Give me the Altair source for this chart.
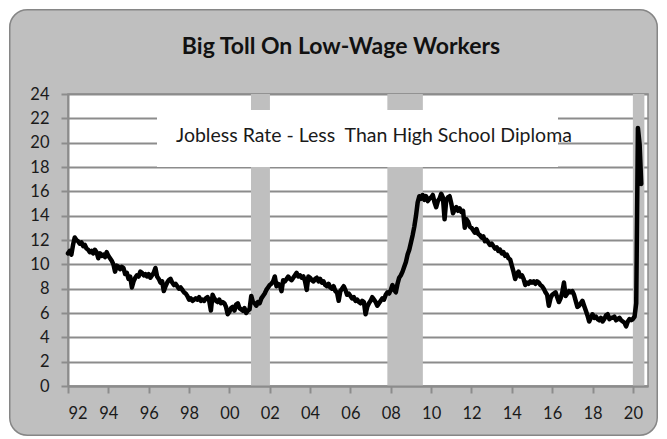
import altair as alt
import pandas as pd

# ---- data (monthly jobless rate, less than high school diploma, %) ----
r1992 = [10.9, 11.1, 10.8, 11.6, 12.2, 12.0, 11.9, 11.7, 11.8, 11.5, 11.6, 11.3]
r1993 = [11.2, 11.0, 11.1, 10.9, 11.2, 11.0, 10.5, 10.9, 10.7, 10.8, 10.6, 11.0]
r1994 = [10.7, 10.5, 10.3, 10.0, 9.4, 9.9, 9.8, 9.6, 9.8, 9.7, 9.2, 9.3]
r1995 = [8.8, 9.0, 8.1, 8.6, 8.9, 9.1, 9.0, 9.4, 9.3, 9.1, 9.2, 9.0]
r1996 = [9.2, 8.9, 9.1, 9.3, 9.7, 9.0, 8.8, 8.5, 8.6, 7.8, 8.2, 8.5]
r1997 = [8.7, 8.8, 8.5, 8.3, 8.4, 8.2, 8.0, 8.1, 7.9, 7.7, 7.6, 7.4]
r1998 = [7.1, 7.2, 7.0, 7.1, 7.2, 7.1, 7.3, 7.0, 7.1, 7.0, 7.2, 7.3]
r1999 = [7.0, 6.2, 7.5, 7.2, 7.0, 6.9, 7.1, 6.8, 6.9, 6.8, 6.5, 5.9]
r2000 = [6.1, 6.4, 6.5, 6.2, 6.7, 6.8, 6.4, 6.3, 6.2, 6.4, 6.0, 6.2]
r2001 = [6.3, 7.4, 6.9, 6.8, 6.6, 6.9, 6.8, 7.2, 7.4, 7.6, 7.9, 8.1]
r2002 = [8.3, 8.4, 8.6, 9.0, 8.2, 8.4, 8.3, 7.8, 8.7, 8.6, 8.8, 9.0]
r2003 = [8.8, 8.7, 8.9, 9.1, 9.3, 9.0, 9.1, 8.9, 9.0, 8.6, 7.9, 9.0]
r2004 = [8.9, 8.7, 8.6, 8.8, 8.9, 8.6, 8.8, 8.5, 8.6, 8.3, 8.2, 8.4]
r2005 = [8.1, 8.0, 8.2, 7.8, 7.7, 7.0, 7.8, 8.0, 8.2, 7.9, 7.5, 7.6]
r2006 = [7.4, 7.2, 7.3, 7.0, 7.1, 6.9, 6.8, 7.0, 6.9, 5.9, 6.5, 6.8]
r2007 = [7.0, 7.3, 7.1, 6.9, 6.6, 6.8, 7.0, 7.2, 7.1, 7.5, 7.7, 7.6]
r2008 = [7.9, 8.3, 7.9, 7.7, 8.4, 8.9, 9.1, 9.4, 9.8, 10.2, 10.8, 11.2]
r2009 = [11.8, 12.4, 13.1, 14.0, 15.1, 15.6, 15.4, 15.7, 15.3, 15.6, 15.2, 15.4]
r2010 = [15.5, 15.7, 15.1, 14.7, 15.2, 15.4, 15.8, 15.5, 13.7, 15.3, 15.5, 15.6]
r2011 = [15.0, 14.2, 14.5, 14.7, 14.4, 14.6, 14.3, 14.4, 13.0, 13.7, 13.5, 13.1]
r2012 = [13.0, 12.8, 12.6, 12.9, 12.5, 12.4, 12.2, 12.3, 11.9, 12.0, 11.8, 11.6]
r2013 = [11.7, 11.5, 11.3, 11.4, 11.1, 11.2, 10.9, 11.0, 10.7, 10.8, 10.5, 10.4]
r2014 = [9.9, 9.4, 8.8, 9.2, 9.4, 9.0, 9.1, 8.8, 8.3, 8.5, 8.4, 8.6]
r2015 = [8.5, 8.6, 8.4, 8.6, 8.5, 8.3, 8.2, 8.0, 7.7, 7.5, 6.6, 7.2]
r2016 = [7.5, 7.6, 7.7, 7.3, 6.9, 7.2, 7.7, 8.5, 7.4, 7.6, 7.8, 7.7]
r2017 = [7.8, 7.5, 7.0, 6.5, 6.6, 6.8, 7.0, 6.6, 6.2, 5.8, 5.3, 5.6]
r2018 = [5.9, 5.6, 5.7, 5.5, 5.4, 5.6, 5.3, 5.5, 5.8, 5.9, 5.5, 5.6]
r2019 = [5.6, 5.7, 5.4, 5.5, 5.6, 5.4, 5.3, 5.2, 4.9, 5.3, 5.5, 5.4]
r2020 = [5.5, 5.7, 6.8, 21.2, 19.9, 16.6]

years = list(range(1992, 2021))
series = [r1992, r1993, r1994, r1995, r1996, r1997, r1998, r1999, r2000,
          r2001, r2002, r2003, r2004, r2005, r2006, r2007, r2008, r2009,
          r2010, r2011, r2012, r2013, r2014, r2015, r2016, r2017, r2018,
          r2019, r2020]

# recession periods (decimal years)
rec_start = [2001.07, 2007.83, 2020.0]
rec_end = [2002.01, 2009.59, 2020.57]

x_ticks = list(range(1992, 2021, 2))
y_ticks = list(range(0, 25, 2))

title_text = ["Big Toll On Low-Wage Workers"]
legend_text = ["Jobless Rate - Less\u00a0 Than High School Diploma"]

# ---- build tables ----
rows = []
for yr, vals in zip(years, series):
    for i, v in enumerate(vals):
        rows.append({"t": yr + i / 12.0, "rate": v})
df = pd.DataFrame(rows)
rec = pd.DataFrame({"start": rec_start, "end": rec_end})

W, H = 580, 292
PAD_L, PAD_T, PAD_R, PAD_B = 60, 86, 11, 51
FONT = "Lato"
GRID = "#8c8c8c"
FILL = "#bfbfbf"

xscale = alt.Scale(domain=[1992, 2020.75], nice=False, zero=False)
yscale = alt.Scale(domain=[0, 24], nice=False)

one = pd.DataFrame({"k": [0]})

bars = alt.Chart(rec).mark_rect(color=FILL).encode(
    x=alt.X("start:Q", scale=xscale,
            axis=alt.Axis(values=x_ticks, grid=False, zindex=1,
                          labelExpr="(datum.value % 100 < 10 ? '0' : '') + (datum.value % 100)",
                          domainColor=GRID, domainWidth=2, tickColor=GRID,
                          tickWidth=2, tickSize=7, labelPadding=12, title=None)),
    x2="end:Q",
    y=alt.value(0),
    y2=alt.value(H),
)

line = alt.Chart(df).mark_line(color="black", strokeWidth=4.5,
                               strokeJoin="round", strokeCap="round").encode(
    x=alt.X("t:Q", scale=xscale),
    y=alt.Y("rate:Q", scale=yscale,
            axis=alt.Axis(values=y_ticks, grid=True, gridColor=GRID, gridWidth=2,
                          domainColor=GRID, domainWidth=2, tickColor=GRID,
                          tickWidth=2, tickSize=7, labelPadding=12, title=None)),
)

legend_box = alt.Chart(one).mark_rect(color="white").encode(
    x=alt.value(89), x2=alt.value(490), y=alt.value(16), y2=alt.value(73))

legend_lbl = alt.Chart(pd.DataFrame({"txt": legend_text})).mark_text(
    font=FONT, fontSize=19.5, align="left", baseline="alphabetic", color="#1a1a1a"
).encode(text="txt:N", x=alt.value(108), y=alt.value(48))

title = alt.Chart(pd.DataFrame({"txt": title_text})).mark_text(
    font=FONT, fontSize=23, fontWeight="bold", align="center",
    baseline="alphabetic", color="#111111"
).encode(text="txt:N", x=alt.value(273), y=alt.value(-40))

TW = W + PAD_L + PAD_R
TH = H + PAD_T + PAD_B

border = alt.Chart(one).mark_rect(fill=None, stroke="#868686", strokeWidth=2.5,
                                  cornerRadius=18).encode(
    x=alt.value(-PAD_L + 1.25), x2=alt.value(TW - PAD_L - 1.25),
    y=alt.value(-PAD_T + 1.25), y2=alt.value(TH - PAD_T - 1.25))

outer = alt.Chart(one).mark_rect(fill=None, stroke="white", strokeWidth=20,
                                 cornerRadius=28.25).encode(
    x=alt.value(-PAD_L - 9), x2=alt.value(TW - PAD_L + 9),
    y=alt.value(-PAD_T - 9), y2=alt.value(TH - PAD_T + 9))

chart = alt.layer(bars, line, legend_box, legend_lbl, title, border, outer).properties(
    width=W, height=H,
    padding={"left": PAD_L, "top": PAD_T, "right": PAD_R, "bottom": PAD_B},
    autosize=alt.AutoSizeParams(type="none"),
    background=FILL,
).configure_view(
    fill="white", stroke=GRID, strokeWidth=1.5
).configure_axis(
    labelFont=FONT, labelFontSize=16.5, labelColor="#1a1a1a"
)

chart.save("out.html", embed_options={"renderer": "svg", "actions": False})
